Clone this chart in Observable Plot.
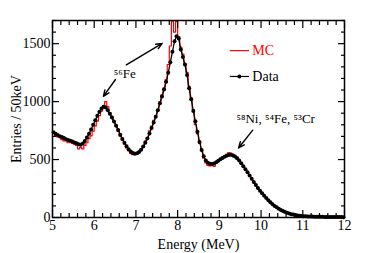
<!DOCTYPE html>
<html><head><meta charset="utf-8">
<script src="https://cdn.jsdelivr.net/npm/d3@7"></script>
<script src="https://cdn.jsdelivr.net/npm/@observablehq/plot@0.6"></script>
<style>body{margin:0;background:#fff} svg{display:block}</style>
</head><body><div id="chart"></div>
<script>
// Histogram: 50 keV bins from 5 to 12 MeV (bin start energies)
const binStart = 5.0;
const binWidth = 0.05;
const dataCounts = [
 735,722,712,702,695,685,675,668,662,655,
 648,640,632,628,638,660,690,722,760,800,
 840,878,912,940,955,950,925,895,862,828,
 792,755,715,678,645,615,590,570,556,550,
 555,566,585,612,645,682,725,772,820,870,
 925,985,1045,1105,1172,1250,1340,1430,1520,1565,
 1545,1450,1385,1320,1230,1115,1020,920,830,740,
 652,582,528,492,472,463,462,466,476,490,
 503,514,524,533,540,541,536,526,511,492,
 468,443,417,390,362,335,306,280,254,230,
 209,188,168,149,131,115,100,88,76,65,
 56,48,41,35,29,25,21,18,15,13,
 11,10,9,8,8,7,7,6,6,6,
 5,5,5,5,4,4,4,4,4,3
];
const mcCounts = [
 725,705,695,690,672,662,662,645,652,640,
 632,622,592,605,592,622,645,680,705,745,
 790,832,878,918,958,1000,958,905,872,830,
 790,742,702,668,632,600,575,552,542,552,
 545,570,590,616,662,690,748,788,838,878,
 932,998,1058,1118,1190,1320,1480,1690,1600,1690,
 1560,1470,1410,1330,1252,1132,1032,932,802,722,
 642,580,512,472,450,445,470,440,478,490,
 510,520,526,546,560,556,545,520,522,490,
 470,440,420,386,365,330,310,280,250,230,
 205,185,165,150,130,112,98,85,72,62,
 52,44,36,30,25,20,16,13,10,8,
 6,5,4,4,3,3,3,3,2,2,
 2,2,2,2,2,2,2,2,2,2
];
const xTicks = [5, 6, 7, 8, 9, 10, 11, 12];
const yTicks = [0, 500, 1000, 1500];
const xLabel = "Energy (MeV)";
const yLabel = "Entries / 50keV";
const legendLabels = ["MC", "Data"];
const annotationLabels = ["\u2075\u2076Fe", "\u2075\u2078Ni, \u2075\u2074Fe, \u2075\u00b3Cr"];
// annotation anchors in data units (energy, entries)
const annotationX = [6.73, 10.35];
const annotationY = [1243, 849];
const arrowX1 = [6.51, 6.77, 9.80];
const arrowY1 = [1191, 1317, 754];
const arrowX2 = [6.22, 7.63, 9.46];
const arrowY2 = [1046, 1503, 600];
const legendX1 = 9.25, legendX2 = 9.71, legendTextX = 9.79;
const legendY = [1440, 1217];

const round = v => Math.round(v * 1000) / 1000;
const dataPts = dataCounts.map((v, i) => ({x: round(binStart + (i + 0.5) * binWidth), y: v}));
const mcPts = mcCounts.map((v, i) => ({x: round(binStart + i * binWidth), y: v}));
mcPts.push({x: round(binStart + mcCounts.length * binWidth), y: mcCounts[mcCounts.length - 1]});

const xMinor = d3.range(50, 121, 2).map(v => v / 10).filter(v => !xTicks.includes(v));
const yMinor = d3.range(0, 1701, 100).filter(v => !yTicks.includes(v));
const blank = () => "";

const annos = annotationLabels.map((t, i) => ({t, x: annotationX[i], y: annotationY[i]}));
const arrows = arrowX1.map((x1, i) => ({x1, y1: arrowY1[i], x2: arrowX2[i], y2: arrowY2[i]}));
const legend = legendLabels.map((t, i) => ({t, y: legendY[i], color: i === 0 ? "#ff0000" : "#000000"}));

const chart = Plot.plot({
  width: 374, height: 253,
  marginLeft: 52, marginRight: 30, marginTop: 20, marginBottom: 36,
  style: {fontFamily: "'Liberation Serif', 'Times New Roman', serif", fontSize: "14px", background: "white", color: "black", overflow: "visible"},
  x: {domain: [5, 12]},
  y: {domain: [0, 1700]},
  marks: [
    Plot.line(mcPts, {x: "x", y: "y", curve: "step-after", stroke: "#ff0000", strokeWidth: 1.2}),
    Plot.line(dataPts, {x: "x", y: "y", stroke: "black", strokeWidth: 1.3}),
    Plot.dot(dataPts, {x: "x", y: "y", r: 2, fill: "black"}),
    // annotations
    Plot.text(annos, {x: "x", y: "y", text: "t", fontSize: 13, textAnchor: "middle", lineAnchor: "middle", fill: "black"}),
    Plot.arrow(arrows, {x1: "x1", y1: "y1", x2: "x2", y2: "y2", stroke: "black", strokeWidth: 1.4, headLength: 7, headAngle: 45}),
    // legend
    Plot.link(legend, {x1: () => legendX1, x2: () => legendX2, y1: "y", y2: "y", stroke: "color", strokeWidth: 1.2}),
    Plot.dot(legend.slice(1), {x: () => (legendX1 + legendX2) / 2, y: "y", r: 2, fill: "black"}),
    Plot.text(legend, {x: () => legendTextX, y: "y", text: "t", fill: "color", textAnchor: "start", lineAnchor: "middle", fontSize: 14}),
    // axes with inward ticks
    Plot.axisX({ticks: xTicks, tickSize: -7, tickPadding: 10, tickFormat: d => String(d), label: xLabel, labelAnchor: "center", labelOffset: 31, labelArrow: "none", fontSize: 14, strokeWidth: 1.2}),
    Plot.axisX({ticks: xMinor, tickSize: -4, tickFormat: blank, label: null, strokeWidth: 1.2}),
    Plot.axisX({anchor: "top", ticks: xTicks, tickSize: -7, tickFormat: blank, label: null, strokeWidth: 1.2}),
    Plot.axisX({anchor: "top", ticks: xMinor, tickSize: -4, tickFormat: blank, label: null, strokeWidth: 1.2}),
    Plot.axisY({ticks: yTicks, tickSize: -7, tickPadding: 9, tickFormat: d => String(d), label: yLabel, labelAnchor: "center", labelOffset: 41, labelArrow: "none", fontSize: 14, strokeWidth: 1.2}),
    Plot.axisY({ticks: yMinor, tickSize: -4, tickFormat: blank, label: null, strokeWidth: 1.2}),
    Plot.axisY({anchor: "right", ticks: yTicks, tickSize: -7, tickFormat: blank, label: null, strokeWidth: 1.2}),
    Plot.axisY({anchor: "right", ticks: yMinor, tickSize: -4, tickFormat: blank, label: null, strokeWidth: 1.2}),
    Plot.frame({stroke: "black", strokeWidth: 1.5})
  ]
});
document.getElementById("chart").appendChild(chart);
</script>
</body></html>
